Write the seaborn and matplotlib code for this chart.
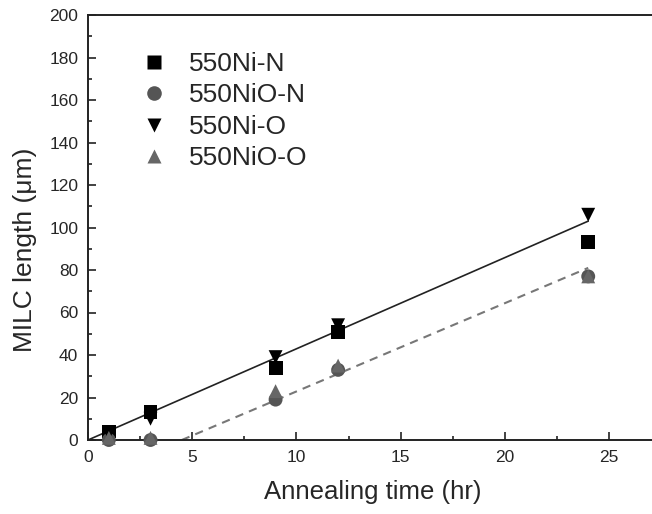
import matplotlib
matplotlib.use("Agg")
import matplotlib.pyplot as plt
import seaborn as sns
import pandas as pd
from matplotlib.ticker import MultipleLocator

sns.set_style("ticks")
plt.rcParams['font.family'] = ['Liberation Sans', 'DejaVu Sans']

times = [1, 3, 9, 12, 24]
ni_n = [4, 13, 34, 51, 93]
nio_n = [0, 0, 19, 33, 77]
ni_o = [3, 10, 39, 54, 106]
nio_o = [1, 1, 23, 35, 77]

series_names = ["550Ni-N", "550NiO-N", "550Ni-O", "550NiO-O"]
series_values = [ni_n, nio_n, ni_o, nio_o]
markers = ["s", "o", "v", "^"]
colors = ["black", "#555555", "black", "#666666"]

fit_solid_x = [0, 24]
fit_solid_y = [0, 103]
fit_dash_x = [4.5, 24]
fit_dash_y = [0, 81]

rows = []
for name, vals in zip(series_names, series_values):
    for t, v in zip(times, vals):
        rows.append({"time": t, "len": v, "series": name})
df = pd.DataFrame(rows)

fig = plt.figure(figsize=(6.52, 5.14), dpi=100)
ax = fig.add_axes([88/652, 74/514, 1 - 88/652, (440 - 15)/514])

sns.lineplot(x=fit_solid_x, y=fit_solid_y, ax=ax, color="#222222", lw=1.2)
sns.lineplot(x=fit_dash_x, y=fit_dash_y, ax=ax, color="#777777", lw=1.5, linestyle=(0, (4, 3)))

sns.scatterplot(data=df, x="time", y="len", hue="series", style="series",
                hue_order=series_names, style_order=series_names,
                markers=dict(zip(series_names, markers)),
                palette=dict(zip(series_names, colors)),
                s=100, edgecolor="none", ax=ax, clip_on=False, zorder=3)

ax.set_xlim(0, 27.06)
ax.set_ylim(0, 200)
ax.xaxis.set_major_locator(MultipleLocator(5))
ax.xaxis.set_minor_locator(MultipleLocator(2.5))
ax.yaxis.set_major_locator(MultipleLocator(20))
ax.yaxis.set_minor_locator(MultipleLocator(10))
ax.tick_params(which="both", direction="in", labelsize=12.5, color="#222222", width=1.2, pad=7)
ax.tick_params(which="major", length=6)
ax.tick_params(which="minor", length=3)
for s in ["left", "bottom", "top"]:
    ax.spines[s].set_linewidth(1.4)
    ax.spines[s].set_color("#222222")
ax.spines["right"].set_visible(False)

ax.set_xlabel("Annealing time (hr)", fontsize=18.5)
ax.set_ylabel("MILC length (μm)", fontsize=19)
ax.xaxis.set_label_coords(0.505, -0.095)
ax.yaxis.set_label_coords(-0.09, 0.448)

leg = ax.legend(loc="upper left", bbox_to_anchor=(0.094, 0.913), frameon=False,
                fontsize=19, handletextpad=0.8, labelspacing=0.28, markerscale=1.05,
                borderaxespad=0, borderpad=0, handlelength=1)

fig.savefig("out.png", dpi=100)
